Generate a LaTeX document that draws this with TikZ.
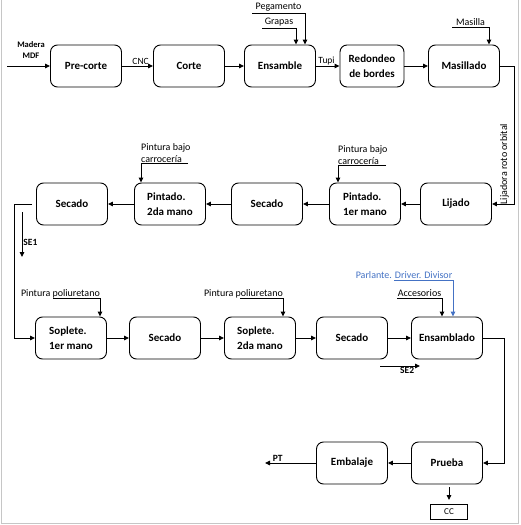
\documentclass[tikz,border=0pt]{standalone}
\usepackage{fontspec}
\setmainfont{Carlito}
\usetikzlibrary{arrows.meta}
\definecolor{parlanteblue}{HTML}{4472C4}

\begin{document}
\begin{tikzpicture}[x=1pt, y=-1pt,
    proc/.style={draw, line width=0.9pt, rounded corners=7pt, minimum width=71pt, minimum height=42pt, inner sep=1pt, align=left, font=\bfseries\fontsize{11}{15}\selectfont},
    lbl/.style={inner sep=1pt, font=\fontsize{10}{12.5}\selectfont},
    tag/.style={inner sep=1pt, font=\bfseries\fontsize{9.5}{10.5}\selectfont},
    flow/.style={line width=0.9pt, -{Triangle[length=5pt, width=4.5pt]}}]
    \useasboundingbox (0,0) rectangle (520,525);
    % frame
    \draw[gray!45, line width=1.5pt] (1.5,0) -- (1.5,523.5) -- (518.5,523.5) -- (518.5,0);
    % first row
    \node[proc] (precorte) at (86,66) {Pre-corte};
    \node[proc] (corte) at (189,66) {Corte};
    \node[proc] (ensamble) at (280,66) {Ensamble};
    \node[proc, minimum width=64pt, align=center] (redondeo) at (372,66) {Redondeo\\de bordes};
    \node[proc] (masillado) at (464,66) {Masillado};
    \coordinate (madera) at (7,66);
    \draw[flow] (madera) -- (precorte.west);
    \node[tag, align=center, font=\bfseries\fontsize{8.5}{10.5}\selectfont] (maderatxt) at (31,50) {Madera\\MDF};
    \draw[flow] (precorte) -- (corte) node[lbl, pos=0.6, above, font=\fontsize{9.5}{11}\selectfont] {CNC};
    \draw[flow] (corte) -- (ensamble);
    \draw[flow] (ensamble) -- (redondeo) node[lbl, pos=0.45, above, font=\fontsize{9.5}{11}\selectfont] {Tupi};
    \draw[flow] (redondeo) -- (masillado);
    % inputs above
    \coordinate (pegamento) at (252,13);
    \draw[flow] (pegamento) -| ([xshift=25pt]ensamble.north) node[lbl, pos=0.25, above] {Pegamento};
    \coordinate (grapas) at (262,28);
    \draw[flow] (grapas) -| ([xshift=16pt]ensamble.north) node[lbl, pos=0.25, above] {Grapas};
    \coordinate (masilla) at (452,27);
    \draw[flow] (masilla) -| ([xshift=25pt]masillado.north) node[lbl, pos=0.25, above] {Masilla};
    % second row
    \node[proc] (lijado) at (456,204) {Lijado};
    \node[proc] (pintadoA) at (365,204) {Pintado.\\1er mano};
    \node[proc] (secadoA) at (267,204) {Secado};
    \node[proc] (pintadoB) at (170,204) {Pintado.\\2da mano};
    \node[proc] (secadoB) at (72,204) {Secado};
    \draw[flow] (masillado.east) -- ++(14,0) |- (lijado.east);
    \node[lbl, rotate=90, anchor=south] (lijadora) at (510,164) {Lijadora roto orbital};
    \draw[flow] (lijado) -- (pintadoA);
    \draw[flow] (pintadoA) -- (secadoA);
    \draw[flow] (secadoA) -- (pintadoB);
    \draw[flow] (pintadoB) -- (secadoB);
    \coordinate (bajoA) at (386,165);
    \draw[flow] (bajoA) -| ([xshift=-27pt]pintadoA.north);
    \node[lbl, align=left, anchor=south west] (bajoAtxt) at (337,166) {Pintura bajo\\carrocería};
    \coordinate (bajoB) at (188,163);
    \draw[flow] (bajoB) -| ([xshift=-29pt]pintadoB.north);
    \node[lbl, align=left, anchor=south west] (bajoBtxt) at (140,164) {Pintura bajo\\carrocería};
    \coordinate (seA) at (22,212);
    \coordinate (seB) at (22,257);
    \draw[flow] (seA) -- (seB) node[tag, pos=0.68, right] {SE1};
    % third row
    \node[proc] (soplete1) at (71,338) {Soplete.\\1er mano};
    \node[proc] (secadoC) at (165,338) {Secado};
    \node[proc] (soplete2) at (260,338) {Soplete.\\2da mano};
    \node[proc] (secadoD) at (352,338) {Secado};
    \node[proc] (ensamblado) at (447,338) {Ensamblado};
    \draw[flow] ([xshift=-4pt]secadoB.west) -- ++(-18,0) |- (soplete1.west);
    \draw[flow] (soplete1) -- (secadoC);
    \draw[flow] (secadoC) -- (soplete2);
    \draw[flow] (soplete2) -- (secadoD);
    \draw[flow] (secadoD) -- (ensamblado);
    \coordinate (poliA) at (53,298);
    \draw[flow] (poliA) -| ([xshift=29pt]soplete1.north);
    \node[lbl, anchor=south east] (poliAtxt) at (101,299) {Pintura poliuretano};
    \coordinate (poliB) at (240,298);
    \draw[flow] (poliB) -| ([xshift=23pt]soplete2.north);
    \node[lbl, anchor=south east] (poliBtxt) at (284,299) {Pintura poliuretano};
    \coordinate (acces) at (397,298);
    \draw[flow] (acces) -| ([xshift=-5pt]ensamblado.north) node[lbl, pos=0.25, above] {Accesorios};
    \coordinate (parlante) at (394,280);
    \draw[flow, parlanteblue] (parlante) -| ([xshift=6pt]ensamblado.north);
    \node[lbl, text=parlanteblue, anchor=south] (parlantetxt) at (404,280) {Parlante. Driver. Divisor};
    \coordinate (seC) at (380,366);
    \coordinate (seD) at (420,366);
    \draw[flow] (seC) -- (seD) node[tag, pos=0.68, below] {SE2};
    % last row
    \node[proc] (prueba) at (447,463) {Prueba};
    \node[proc] (embalaje) at (352,463) {Embalaje};
    \node[draw, line width=0.9pt, minimum width=37pt, minimum height=15pt, inner sep=1pt, font=\fontsize{9}{10}\selectfont] (cc) at (449,512) {CC};
    \draw[flow] (ensamblado.east) -- ++(21,0) |- (prueba.east);
    \draw[flow] (prueba) -- (embalaje);
    \coordinate (pt) at (265,463);
    \draw[flow] (embalaje) -- (pt) node[tag, pos=0.75, above] {PT};
    \draw[flow, shorten <=3pt, shorten >=4pt] (prueba.south -| cc.north) -- (cc.north);
\end{tikzpicture}
\end{document}
